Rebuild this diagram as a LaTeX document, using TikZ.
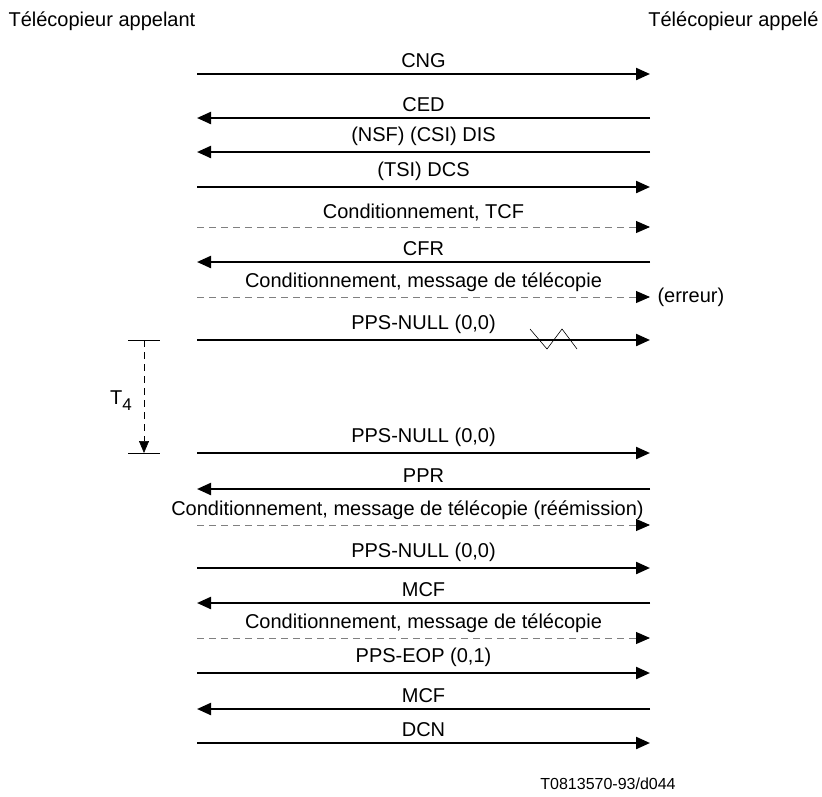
\documentclass[tikz,border=0pt]{standalone}
\usepackage{fontspec}
\setmainfont{Liberation Sans}
\usetikzlibrary{arrows.meta}

\tikzset{
  msg/.style={line width=2.2pt, -{Triangle[length=14pt,width=12pt]}},
  cond/.style={line width=0.9pt, gray, dash pattern=on 7pt off 5pt,
    -{Triangle[length=14pt,width=12pt,color=black]}},
  lbl/.style={above=3pt, midway, inner sep=2pt},
}

\begin{document}
\begin{tikzpicture}[x=1pt, y=-1pt, font=\fontsize{20}{24}\selectfont]
    \useasboundingbox (0,0) rectangle (822,796);

    % Terminals
    \node[anchor=west] (appelant) at (5,21) {Télécopieur appelant};
    \node[anchor=east] (appele) at (822,21) {Télécopieur appelé};

    % End points of each exchange
    \foreach \n/\y in {cng/74, ced/118, dis/152, dcs/187, tcf/227, cfr/262,
        fax/297, nulla/340, nullb/453, ppr/489, refax/525, nullc/568,
        mcfa/603, faxb/638, eop/673, mcfb/709, dcn/743} {
      \coordinate (\n-l) at (197,\y);
      \coordinate (\n-r) at (650,\y);
    }

    % Phase B
    \draw[msg] (cng-l) -- (cng-r) node[lbl] {CNG};
    \draw[msg] (ced-r) -- (ced-l) node[lbl] {CED};
    \draw[msg] (dis-r) -- (dis-l) node[lbl] {(NSF) (CSI) DIS};
    \draw[msg] (dcs-l) -- (dcs-r) node[lbl] {(TSI) DCS};
    \draw[cond] (tcf-l) -- (tcf-r) node[lbl, black] {Conditionnement, TCF};
    \draw[msg] (cfr-r) -- (cfr-l) node[lbl] {CFR};

    % First page, lost post-message command
    \draw[cond] (fax-l) -- (fax-r) node[lbl, black] {Conditionnement, message de télécopie};
    \node[anchor=west, xshift=4pt] (erreur) at (fax-r) {(erreur)};
    \draw[msg] (nulla-l) -- (nulla-r) node[lbl] {PPS-NULL (0,0)};
    \draw[line width=0.6pt] (530,329) -- (547,349) -- (562,329) -- (577,349); % line break

    % Timer T4
    \coordinate (t4top) at (144,340);
    \coordinate (t4bot) at (144,453);
    \draw[line width=0.6pt] (128,340) -- (160,340);
    \draw[line width=0.6pt] (128,453) -- (160,453);
    \draw[line width=0.6pt, dash pattern=on 7pt off 5pt,
      -{Triangle[length=12pt,width=10pt]}] (t4top) -- (t4bot);
    \node (t4) at (121,401) {T\raisebox{-0.55ex}{\fontsize{17}{19}\selectfont 4}};

    % Repeat and re-emission
    \draw[msg] (nullb-l) -- (nullb-r) node[lbl] {PPS-NULL (0,0)};
    \draw[msg] (ppr-r) -- (ppr-l) node[lbl] {PPR};
    \draw[cond] (refax-l) -- (refax-r) node[lbl, black, xshift=-16pt] {Conditionnement, message de télécopie (réémission)};
    \draw[msg] (nullc-l) -- (nullc-r) node[lbl] {PPS-NULL (0,0)};
    \draw[msg] (mcfa-r) -- (mcfa-l) node[lbl] {MCF};

    % Last page and release
    \draw[cond] (faxb-l) -- (faxb-r) node[lbl, black] {Conditionnement, message de télécopie};
    \draw[msg] (eop-l) -- (eop-r) node[lbl] {PPS-EOP (0,1)};
    \draw[msg] (mcfb-r) -- (mcfb-l) node[lbl] {MCF};
    \draw[msg] (dcn-l) -- (dcn-r) node[lbl] {DCN};

    \node (ref) at (608,784) {\fontsize{16}{19}\selectfont T0813570-93/d044};
\end{tikzpicture}
\end{document}
